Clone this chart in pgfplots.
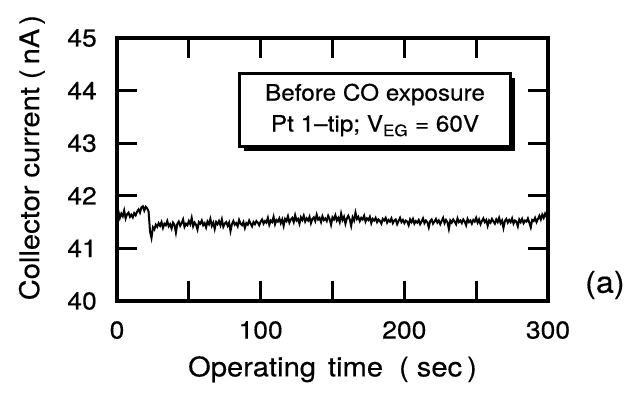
\documentclass[border=0pt]{standalone}
\usepackage{pgfplots}
\pgfplotsset{compat=1.18}
\usepackage{fontspec}
\setmainfont{TeX Gyre Heros}[FakeStretch=1.08, FakeBold=0.4]
\usetikzlibrary{shadows}
\begin{document}
\begin{tikzpicture}
\begin{axis}[
  scale only axis, width=431pt, height=263pt,
  xmin=0, xmax=300, ymin=40, ymax=45,
  xtick={0,50,...,300}, xticklabels={0,,100,,200,,300},
  ytick={40,41,42,43,44,45},
  tick align=inside, major tick length=20pt,
  tick style={line width=3pt, black},
  axis line style={line width=3.5pt},
  /pgf/number format/assume math mode=true,
  tick label style={font=\fontsize{24.5}{30}\selectfont, inner sep=0pt},
  yticklabel shift=20pt, xticklabel shift=20pt,
  xlabel={Operating\hspace{12pt}time\hspace{16pt}(\hspace{8pt}sec\hspace{5pt})},
  ylabel={Collector\hspace{8pt}current\hspace{8pt}(\hspace{5pt}nA\hspace{4pt})},
  label style={font=\fontsize{27}{30}\selectfont, inner sep=0pt},
  xlabel style={at={(axis description cs:0.5,0)}, anchor=north, yshift=-55pt},
  ylabel style={at={(axis description cs:-0.167,0.545)}, anchor=south},
  clip=false,
]
\coordinate (sw) at (rel axis cs:0,0);
\coordinate (ne) at (rel axis cs:1,1);
\addplot[black, line width=2pt] table {
0 41.62
1 41.70
2 41.58
3 41.66
4 41.61
5 41.72
6 41.57
7 41.65
8 41.68
9 41.60
10 41.64
11 41.59
12 41.67
13 41.63
14 41.70
15 41.74
16 41.68
17 41.78
18 41.80
19 41.72
20 41.79
21 41.76
22 41.70
23 41.32
24 41.20
25 41.40
26 41.36
27 41.45
28 41.41
29 41.48
30 41.43
31 41.50
32 41.39
33 41.47
34 41.44
35 41.52
36 41.42
37 41.46
38 41.38
39 41.49
40 41.45
41 41.30
42 41.47
43 41.51
44 41.43
45 41.48
46 41.55
47 41.41
48 41.47
49 41.44
50 41.52
51 41.46
52 41.58
53 41.42
54 41.49
55 41.45
56 41.36
57 41.50
58 41.47
59 41.53
60 41.44
61 41.48
62 41.40
63 41.51
64 41.46
65 41.56
66 41.43
67 41.49
68 41.37
69 41.50
70 41.46
71 41.52
72 41.44
73 41.55
74 41.41
75 41.47
76 41.50
77 41.43
78 41.49
79 41.33
80 41.46
81 41.52
82 41.45
83 41.48
84 41.42
85 41.54
86 41.47
87 41.44
88 41.50
89 41.39
90 41.48
91 41.45
92 41.53
93 41.47
94 41.42
95 41.50
96 41.46
97 41.52
98 41.49
99 41.44
100 41.51
101 41.55
102 41.47
103 41.52
104 41.49
105 41.58
106 41.45
107 41.53
108 41.50
109 41.60
110 41.46
111 41.54
112 41.51
113 41.57
114 41.48
115 41.55
116 41.43
117 41.56
118 41.52
119 41.61
120 41.49
121 41.55
122 41.58
123 41.50
124 41.63
125 41.53
126 41.56
127 41.47
128 41.59
129 41.54
130 41.62
131 41.51
132 41.57
133 41.53
134 41.60
135 41.48
136 41.56
137 41.59
138 41.52
139 41.64
140 41.55
141 41.58
142 41.50
143 41.61
144 41.54
145 41.57
146 41.52
147 41.62
148 41.56
149 41.45
150 41.59
151 41.55
152 41.63
153 41.53
154 41.58
155 41.50
156 41.66
157 41.54
158 41.60
159 41.47
160 41.57
161 41.62
162 41.55
163 41.43
164 41.59
165 41.53
166 41.68
167 41.56
168 41.60
169 41.52
170 41.58
171 41.55
172 41.62
173 41.51
174 41.57
175 41.54
176 41.60
177 41.48
178 41.56
179 41.53
180 41.58
181 41.50
182 41.55
183 41.52
184 41.47
185 41.56
186 41.53
187 41.58
188 41.49
189 41.54
190 41.51
191 41.57
192 41.48
193 41.53
194 41.55
195 41.46
196 41.52
197 41.58
198 41.50
199 41.54
200 41.48
201 41.53
202 41.51
203 41.44
204 41.55
205 41.50
206 41.56
207 41.47
208 41.52
209 41.49
210 41.54
211 41.46
212 41.51
213 41.57
214 41.48
215 41.53
216 41.50
217 41.40
218 41.52
219 41.55
220 41.47
221 41.51
222 41.56
223 41.49
224 41.53
225 41.46
226 41.52
227 41.58
228 41.48
229 41.54
230 41.50
231 41.37
232 41.53
233 41.49
234 41.55
235 41.51
236 41.46
237 41.57
238 41.50
239 41.53
240 41.48
241 41.55
242 41.51
243 41.44
244 41.56
245 41.50
246 41.53
247 41.47
248 41.54
249 41.51
250 41.58
251 41.49
252 41.55
253 41.46
254 41.52
255 41.57
256 41.50
257 41.54
258 41.43
259 41.53
260 41.49
261 41.56
262 41.51
263 41.47
264 41.55
265 41.50
266 41.58
267 41.48
268 41.53
269 41.39
270 41.52
271 41.56
272 41.49
273 41.54
274 41.50
275 41.57
276 41.47
277 41.53
278 41.51
279 41.42
280 41.55
281 41.50
282 41.56
283 41.48
284 41.53
285 41.51
286 41.57
287 41.49
288 41.40
289 41.54
290 41.52
291 41.58
292 41.50
293 41.56
294 41.62
295 41.55
296 41.64
297 41.58
298 41.66
299 41.60
300 41.68
};
\draw[line width=3.5pt, line join=miter] (rel axis cs:0,0) rectangle (rel axis cs:1,1);
\node[draw=black, line width=2.5pt, fill=white,
      drop shadow={shadow xshift=4pt, shadow yshift=-4pt, fill=black, opacity=1},
      minimum width=271pt, minimum height=73pt, align=center,
      font=\fontsize{22.5}{31}\selectfont]
  at (axis cs:179.6,43.63) {Before CO exposure\\Pt 1--tip; V\textsubscript{EG} = 60V};
\node[font=\fontsize{30}{36}\selectfont, inner sep=0pt] at (axis description cs:1.132,0.061) {(a)};
\end{axis}
\pgfresetboundingbox
\path[use as bounding box] ([xshift=-117pt,yshift=-98pt]sw) rectangle ([xshift=93pt,yshift=38pt]ne);
\end{tikzpicture}
\end{document}
